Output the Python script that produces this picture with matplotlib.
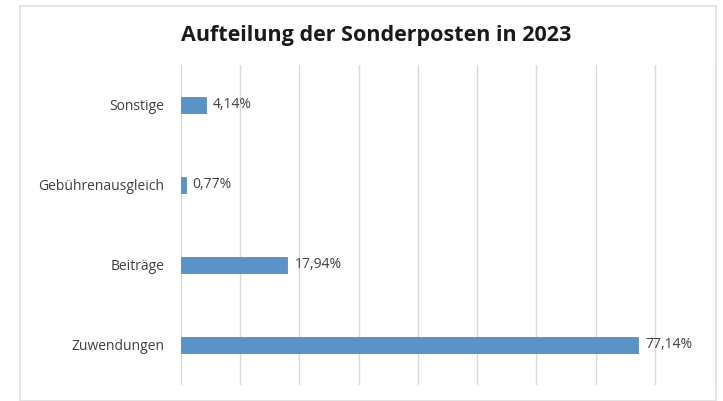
import matplotlib.pyplot as plt
from matplotlib.patches import Rectangle

# Data
categories = ['Zuwendungen', 'Beiträge', 'Gebührenausgleich', 'Sonstige']
values = [77.14, 17.94, 0.77, 4.14]
labels = ['77,14%', '17,94%', '0,77%', '4,14%']

plt.rcParams['font.family'] = ['Open Sans', 'DejaVu Sans']

W, H = 723, 401
fig = plt.figure(figsize=(W / 100, H / 100), dpi=100)
fig.patch.set_facecolor('white')

# light chart frame
fig.patches.append(Rectangle((20 / W, 0), 696 / W, 1 - 6 / H, transform=fig.transFigure,
                             fill=False, edgecolor='#e4e4e4', linewidth=1.5))

ax = fig.add_axes([181 / W, 1 - 385 / H, (714 - 181) / W, (385 - 65) / H])
ax.barh(categories, values, height=0.19, color='#5b93c8', edgecolor='#4a7fb3', linewidth=0.5, zorder=3)

for i, (v, lab) in enumerate(zip(values, labels)):
    ax.text(v + 1.2, i, lab, va='center', ha='left', fontsize=10, color='#404040')

ax.set_xlim(0, 90)
ax.set_ylim(-0.5, 3.5)
ax.set_xticks(range(0, 91, 10))
ax.xaxis.grid(True, color='#d9d9d9', linewidth=1)
ax.tick_params(axis='x', length=0, labelbottom=False)
ax.tick_params(axis='y', length=0, labelsize=10, labelcolor='#404040', pad=12)
for s in ax.spines.values():
    s.set_visible(False)

fig.text(376 / W, 1 - 36 / H, 'Aufteilung der Sonderposten in 2023', ha='center', va='center',
         fontsize=15.5, fontweight='bold', color='#1a1a1a')

fig.savefig('out.png', dpi=100)
